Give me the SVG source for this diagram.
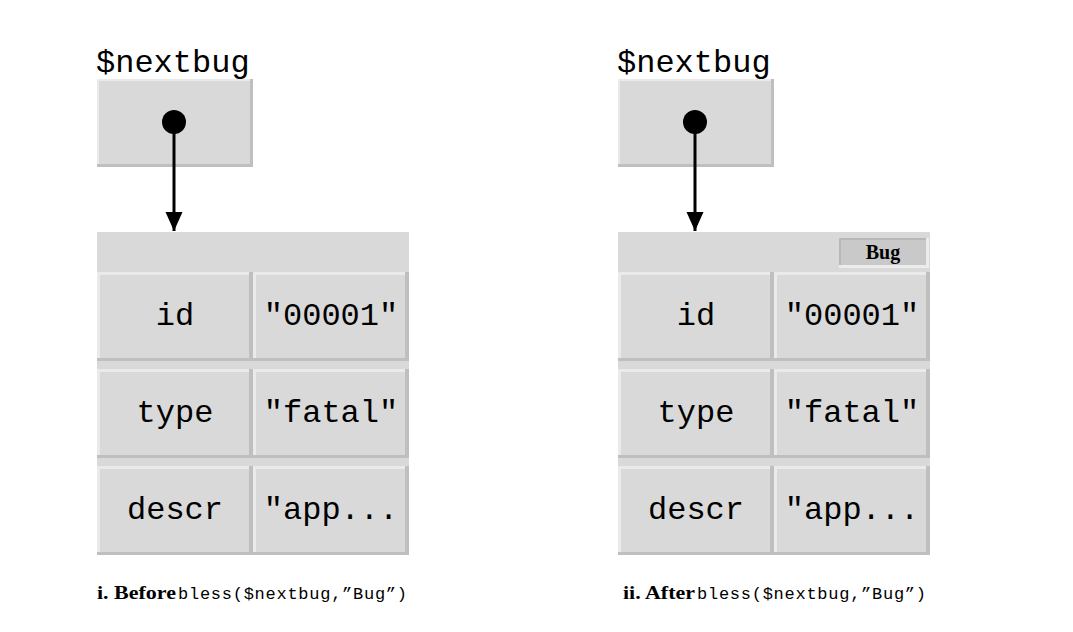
<svg xmlns="http://www.w3.org/2000/svg" width="1073" height="632" viewBox="0 0 1073 632">
  <style>
    .bg { fill: #d9d9d9; }
    .lt { fill: #eaeaea; }
    .dk { fill: #bfbfbf; }
    .mono { font-family: "Liberation Mono", "DejaVu Sans Mono", monospace; font-size: 32px; fill: #000; }
    .cell { text-anchor: middle; }
    .cap { font-family: "Liberation Serif", "DejaVu Serif", serif; font-weight: bold; font-size: 18px; fill: #000; }
    .capm { font-family: "Liberation Mono", "DejaVu Sans Mono", monospace; font-size: 17px; fill: #000; }
    .tag { font-family: "Liberation Serif", "DejaVu Serif", serif; font-weight: bold; font-size: 20px; fill: #000; text-anchor: middle; }
    .ptr { stroke: #000; stroke-width: 3; fill: none; }
  </style>
  <defs>
    <marker id="ah" markerUnits="userSpaceOnUse" markerWidth="20" markerHeight="20" viewBox="0 0 20 20" refX="19" refY="10" orient="auto">
      <polygon points="0,1.5 19,10 0,18.5" fill="#000"/>
    </marker>
    <g id="cellbox">
      <rect class="bg" x="0" y="0" width="156" height="89"/>
      <rect class="lt" x="0" y="0" width="156" height="3"/>
      <rect class="lt" x="0" y="0" width="3" height="89"/>
      <rect class="dk" x="0" y="86" width="156" height="3"/>
      <rect class="dk" x="152" y="0" width="4" height="89"/>
    </g>
  </defs>
  <rect width="1073" height="632" fill="#fff"/>

  <!-- LEFT PANEL -->
  <g id="var-left">
    <text class="mono" x="96" y="72">$nextbug</text>
    <rect class="bg" x="97" y="79" width="156" height="88"/>
    <rect class="lt" x="97" y="79" width="156" height="2"/>
    <rect class="lt" x="97" y="79" width="2" height="88"/>
    <rect class="dk" x="97" y="164" width="156" height="3"/>
    <rect class="dk" x="250" y="79" width="3" height="88"/>
  </g>
  <g id="hash-left">
    <rect class="bg" x="97" y="232" width="312" height="323"/>
    <use href="#cellbox" x="97" y="272"/>
    <use href="#cellbox" x="253" y="272"/>
    <use href="#cellbox" x="97" y="369"/>
    <use href="#cellbox" x="253" y="369"/>
    <use href="#cellbox" x="97" y="466"/>
    <use href="#cellbox" x="253" y="466"/>
    <text class="mono cell" x="175" y="325">id</text>
    <text class="mono cell" x="331" y="325">"00001"</text>
    <text class="mono cell" x="175" y="422">type</text>
    <text class="mono cell" x="331" y="422">"fatal"</text>
    <text class="mono cell" x="175" y="519">descr</text>
    <text class="mono cell" x="331" y="519">"app...</text>
  </g>
  <g id="caption-left">
    <text class="cap" x="97" y="599" textLength="79" lengthAdjust="spacingAndGlyphs">i. Before</text>
    <text class="capm" x="178" y="599" textLength="229" lengthAdjust="spacing">bless($nextbug,”Bug”)</text>
  </g>

  <!-- RIGHT PANEL -->
  <g id="var-right">
    <text class="mono" x="617" y="72">$nextbug</text>
    <rect class="bg" x="618" y="79" width="156" height="88"/>
    <rect class="lt" x="618" y="79" width="156" height="2"/>
    <rect class="lt" x="618" y="79" width="2" height="88"/>
    <rect class="dk" x="618" y="164" width="156" height="3"/>
    <rect class="dk" x="771" y="79" width="3" height="88"/>
  </g>
  <g id="hash-right">
    <rect class="bg" x="618" y="232" width="312" height="323"/>
    <use href="#cellbox" x="618" y="272"/>
    <use href="#cellbox" x="774" y="272"/>
    <use href="#cellbox" x="618" y="369"/>
    <use href="#cellbox" x="774" y="369"/>
    <use href="#cellbox" x="618" y="466"/>
    <use href="#cellbox" x="774" y="466"/>
    <text class="mono cell" x="696" y="325">id</text>
    <text class="mono cell" x="852" y="325">"00001"</text>
    <text class="mono cell" x="696" y="422">type</text>
    <text class="mono cell" x="852" y="422">"fatal"</text>
    <text class="mono cell" x="696" y="519">descr</text>
    <text class="mono cell" x="852" y="519">"app...</text>
  </g>
  <g id="tag-bug">
    <rect x="839" y="238" width="90" height="30" fill="#ececec"/>
    <rect x="839" y="238" width="87" height="27" fill="#b8b8b8"/>
    <rect x="841" y="240" width="85" height="25" fill="#c9c9c9"/>
    <text class="tag" x="883" y="259">Bug</text>
  </g>
  <g id="caption-right">
    <text class="cap" x="623" y="599" textLength="72" lengthAdjust="spacingAndGlyphs">ii. After</text>
    <text class="capm" x="697" y="599" textLength="229" lengthAdjust="spacing">bless($nextbug,”Bug”)</text>
  </g>

  <!-- CONNECTORS -->
  <g id="connectors">
    <circle cx="174" cy="122" r="12" fill="#000"/>
    <line class="ptr" x1="174" y1="122" x2="174" y2="231" marker-end="url(#ah)"/>
    <circle cx="695" cy="122" r="12" fill="#000"/>
    <line class="ptr" x1="695" y1="122" x2="695" y2="231" marker-end="url(#ah)"/>
  </g>
</svg>
